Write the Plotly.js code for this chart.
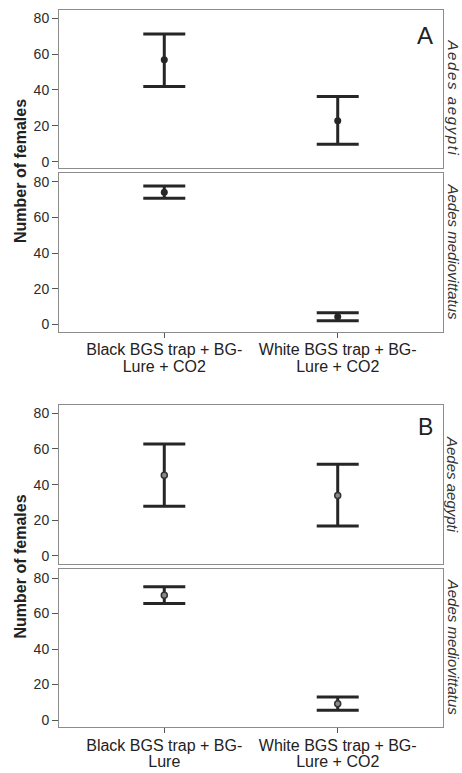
<!DOCTYPE html>
<html>
<head>
<meta charset="utf-8">
<script src="https://cdn.plot.ly/plotly-3.0.1.min.js"></script>
<style>html,body{margin:0;padding:0;background:#fff;}#chart{width:462px;height:773px;}</style>
</head>
<body>
<div id="chart"></div>
<script>
// Categories
const catsA = ["Black BGS trap + BG-<br>Lure + CO2", "White BGS trap + BG-<br>Lure + CO2"];
const catsB = ["Black BGS trap + BG-<br>Lure", "White BGS trap + BG-<br>Lure + CO2"];

// Panel A - Aedes aegypti
const aAegMean  = [56.8, 22.9];
const aAegUpper = [71.2, 36.3];
const aAegLower = [41.9, 9.7];
// Panel A - Aedes mediovittatus
const aMedMean  = [74.1, 4.3];
const aMedUpper = [77.6, 6.5];
const aMedLower = [70.7, 2.0];
// Panel B - Aedes aegypti
const bAegMean  = [45.2, 33.9];
const bAegUpper = [62.8, 51.5];
const bAegLower = [27.9, 16.7];
// Panel B - Aedes mediovittatus
const bMedMean  = [70.4, 9.2];
const bMedUpper = [75.1, 13.0];
const bMedLower = [65.7, 5.5];

const yTicks = [0, 20, 40, 60, 80];

const FONT = "Liberation Sans, Arial, sans-serif";
const DARK = "#262626";

function trace(cats, mean, upper, lower, xa, ya, filled) {
  return {
    type: "scatter", mode: "markers",
    x: cats, y: mean, xaxis: xa, yaxis: ya,
    marker: filled
      ? {size: 7, color: DARK, line: {width: 0}}
      : {size: 6, color: "#8a8a8a", line: {width: 1.5, color: "#333"}},
    error_y: {
      type: "data", symmetric: false,
      array: upper.map((u, i) => u - mean[i]),
      arrayminus: lower.map((l, i) => mean[i] - l),
      width: 21, thickness: 3, color: DARK
    },
    showlegend: false, hoverinfo: "skip"
  };
}

const data = [
  trace(catsA, aAegMean, aAegUpper, aAegLower, "x", "y", true),
  trace(catsA, aMedMean, aMedUpper, aMedLower, "x2", "y2", true),
  trace(catsB, bAegMean, bAegUpper, bAegLower, "x3", "y3", false),
  trace(catsB, bMedMean, bMedUpper, bMedLower, "x4", "y4", false)
];

// tighter two-line tick labels: small base size (sets line spacing), larger visible text
const tickLabel = c => c.split("<br>").map(s => '<span style="font-size:16px">' + s + '</span>').join("<br>");

const xDom = [59/462, 443/462];
function xax(anchor, showLabels, cats) {
  return {
    domain: xDom, anchor: anchor, type: "category",
    categoryorder: "array", categoryarray: cats,
    tickvals: cats, ticktext: cats.map(tickLabel),
    range: [-0.607, 1.607],
    showline: true, mirror: true, linecolor: "#8c8c8c", linewidth: 1,
    showgrid: false, zeroline: false,
    ticks: showLabels ? "outside" : "", ticklen: 5, tickcolor: "#555", tickwidth: 1,
    showticklabels: showLabels, ticklabelstandoff: 2,
    tickfont: {family: FONT, size: 12.8, color: "#222"}
  };
}
function yax(anchor, dom, range) {
  return {
    domain: dom, anchor: anchor, range: range,
    tickvals: yTicks, ticks: "outside", ticklen: 6, tickcolor: "#555", tickwidth: 1,
    showline: true, mirror: true, linecolor: "#8c8c8c", linewidth: 1,
    showgrid: false, zeroline: false,
    tickfont: {family: FONT, size: 14, color: "#2b2b2b"}
  };
}
const H = 773, W = 462;
const dom = (top, bot) => [1 - bot / H, 1 - top / H];

function ann(text, xpx, ypx, opts) {
  return Object.assign({
    xref: "paper", yref: "paper", x: xpx / W, y: 1 - ypx / H,
    xanchor: "center", yanchor: "middle", showarrow: false, text: text
  }, opts);
}
const sideFont = {family: FONT, size: 15, color: "#333"};

const layout = {
  width: W, height: H,
  margin: {l: 0, r: 0, t: 0, b: 0},
  paper_bgcolor: "#fff", plot_bgcolor: "#fff",
  font: {family: FONT, color: "#222"},
  xaxis: xax("y", false, catsA),
  xaxis2: xax("y2", true, catsA),
  xaxis3: xax("y3", false, catsB),
  xaxis4: xax("y4", true, catsB),
  yaxis: yax("x", dom(10, 168), [-3.5, 84.6]),
  yaxis2: yax("x2", dom(172.7, 331.7), [-4.1, 85.0]),
  yaxis3: yax("x3", dom(405, 563.7), [-4.4, 84.7]),
  yaxis4: yax("x4", dom(568.7, 727.3), [-4.1, 85.3]),
  annotations: [
    ann("<b>Number of females</b>", 20, 171, {textangle: -90, font: {family: FONT, size: 16, color: "#222"}}),
    ann("<b>Number of females</b>", 20, 566.5, {textangle: -90, font: {family: FONT, size: 16, color: "#222"}}),
    ann('<i><span style="letter-spacing:1.6px">Aedes aegypti</span></i>', 453, 97.5, {textangle: 90, font: sideFont}),
    ann("<i>Aedes mediovittatus</i>", 453, 251.5, {textangle: 90, font: sideFont}),
    ann("<i>Aedes aegypti</i>", 453, 484, {textangle: 90, font: sideFont}),
    ann("<i>Aedes mediovittatus</i>", 453, 646.7, {textangle: 90, font: sideFont}),
    ann("A", 424.5, 35, {font: {family: FONT, size: 24, color: "#222"}}),
    ann("B", 425, 427, {font: {family: FONT, size: 23, color: "#222"}})
  ]
};

Plotly.newPlot("chart", data, layout, {staticPlot: true, displayModeBar: false});
</script>
</body>
</html>
